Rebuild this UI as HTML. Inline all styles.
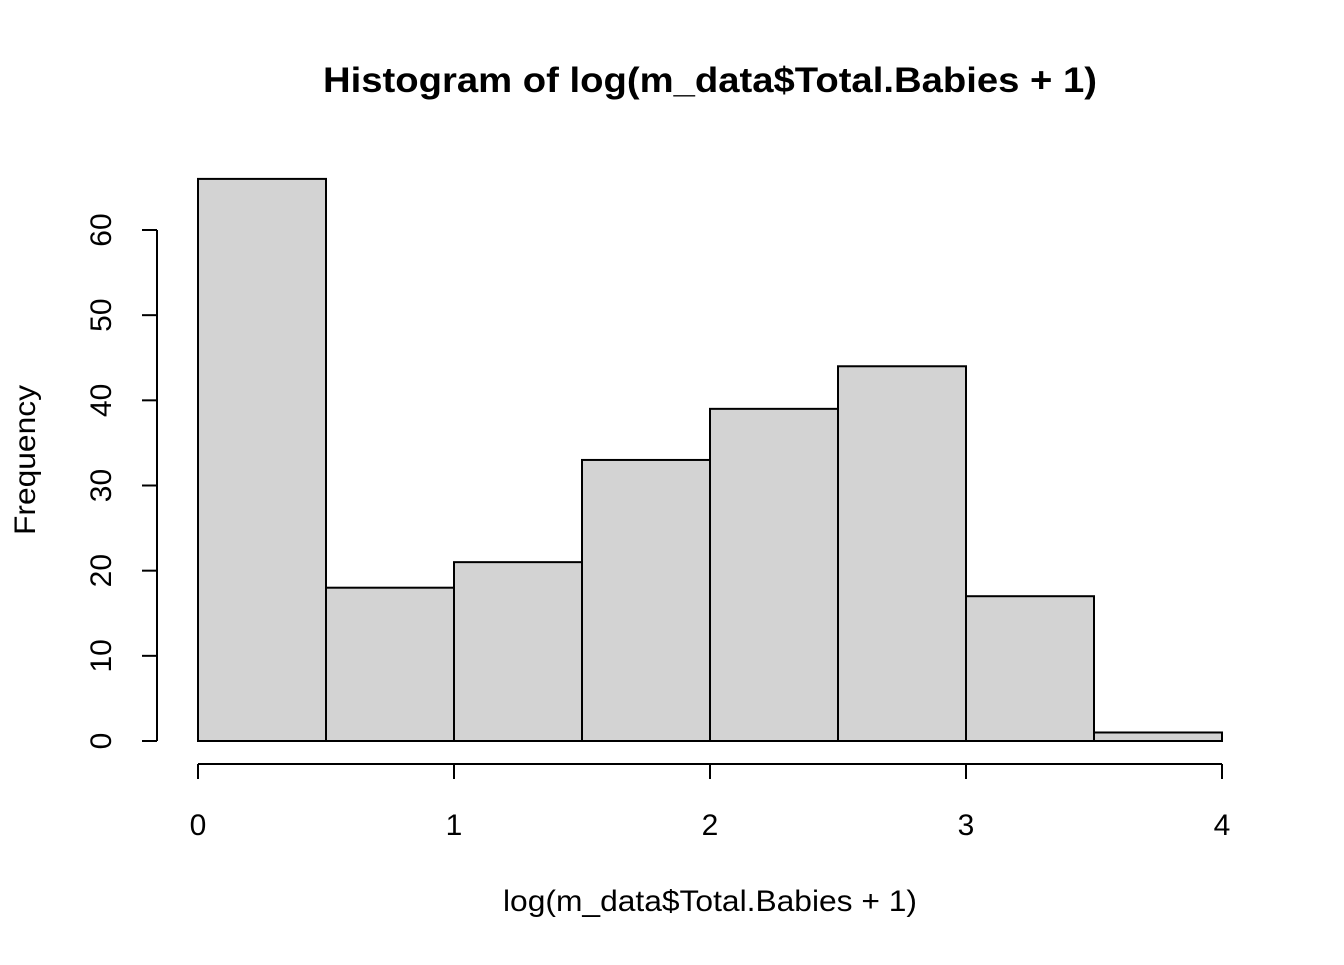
<!DOCTYPE html>
<html><head><meta charset="utf-8"><style>
body{margin:0;background:#fff}
svg text{font-family:"Liberation Sans",Arial,sans-serif;fill:#000}
</style></head><body>
<svg width="1344" height="960" xmlns="http://www.w3.org/2000/svg">
<rect width="1344" height="960" fill="#fff"/>
<text x="710" y="92" font-size="35" font-weight="bold" text-anchor="middle" textLength="774" lengthAdjust="spacingAndGlyphs">Histogram of log(m_data$Total.Babies + 1)</text>
<text x="710" y="911" font-size="30" text-anchor="middle" textLength="414" lengthAdjust="spacingAndGlyphs">log(m_data$Total.Babies + 1)</text>
<text transform="translate(35,460) rotate(-90)" font-size="30" text-anchor="middle" textLength="150" lengthAdjust="spacingAndGlyphs">Frequency</text>
<g id="bars"></g><g id="xaxis"></g><g id="yaxis"></g>
</svg>
<script>
const breaks=[0,0.5,1,1.5,2,2.5,3,3.5,4];
const counts=[66,18,21,33,39,44,17,1];
const xTicks=[0,1,2,3,4];
const yTicks=[0,10,20,30,40,50,60];
const NS="http://www.w3.org/2000/svg";
const X=v=>198+v*256, Y=v=>741-v*(511/60);
function mk(t,a,p){const e=document.createElementNS(NS,t);for(const k in a)e.setAttribute(k,a[k]);p.appendChild(e);return e;}
const bars=document.getElementById('bars');
counts.forEach((c,i)=>{const r=mk('rect',{x:X(breaks[i]),y:Y(c),width:X(breaks[i+1])-X(breaks[i]),height:Y(0)-Y(c),fill:'#d3d3d3',stroke:'#000','stroke-width':2},bars);

});
const xa=document.getElementById('xaxis');
const xl=mk('line',{x1:X(xTicks[0]),x2:X(xTicks[xTicks.length-1]),y1:764,y2:764,stroke:'#000','stroke-width':2},xa);


xTicks.forEach(v=>{mk('line',{x1:X(v),x2:X(v),y1:764,y2:779,stroke:'#000','stroke-width':2},xa);
const t=mk('text',{x:X(v),y:835,'font-size':30,'text-anchor':'middle'},xa);t.textContent=v;

});
const ya=document.getElementById('yaxis');
const yl=mk('line',{x1:157,x2:157,y1:Y(yTicks[0]),y2:Y(yTicks[yTicks.length-1]),stroke:'#000','stroke-width':2},ya);


yTicks.forEach(v=>{mk('line',{x1:142,x2:157,y1:Y(v),y2:Y(v),stroke:'#000','stroke-width':2},ya);
const t=mk('text',{transform:`translate(111,${Y(v)}) rotate(-90)`,'font-size':30,'text-anchor':'middle'},ya);t.textContent=v;

});
</script>
</body></html>
